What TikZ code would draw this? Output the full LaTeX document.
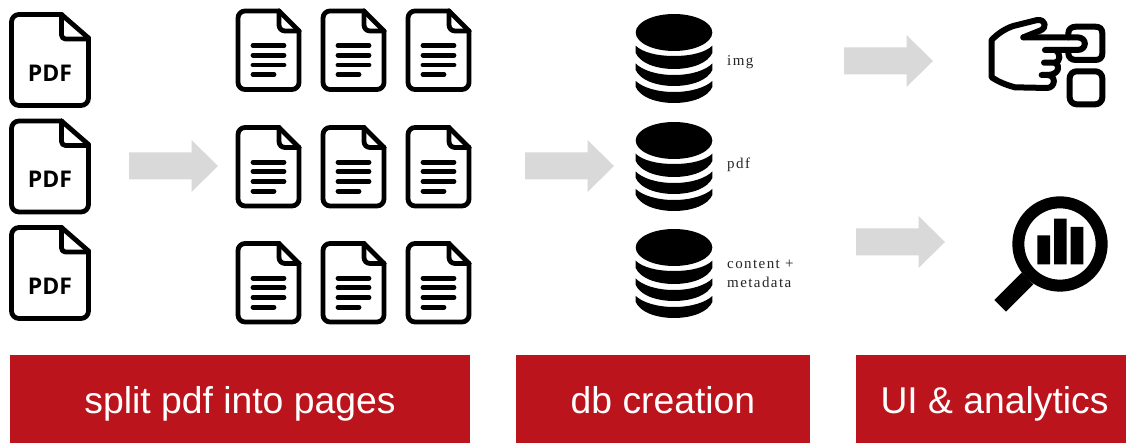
\documentclass[tikz,border=0pt]{standalone}
\usepackage{fontspec}
\setmainfont{Liberation Sans}
\newfontfamily\serifspaced[LetterSpace=9.5]{Liberation Serif}
\newfontfamily\pdffont{Open Sans}
\definecolor{barred}{HTML}{BC141C}
\definecolor{arrowgrey}{HTML}{D9D9D9}
\tikzset{
  x=1pt,y=-1pt,
  icon/.style={line width=4.8pt,line join=round,line cap=round,draw=black},
  bar/.style={fill=barred,inner sep=0pt,anchor=center},
  barlabel/.style={text=white,font=\fontsize{37.3}{37.3}\selectfont,inner sep=0pt,anchor=base},
  dblabel/.style={font=\serifspaced\fontsize{15}{15}\selectfont,anchor=base west,inner sep=0pt,text=black!85},
  pdftext/.style={font=\pdffont\bfseries\fontsize{23}{23}\selectfont,inner sep=0pt,anchor=base},
  pdficon/.pic={
    \draw[icon,rounded corners=7.5pt] (61.5,14.5) -- (11.5,14.5) -- (11.5,105.5) -- (88.5,105.5) -- (88.5,38);
    \draw[icon] (88.5,38) -- (61.5,14.5);
    \draw[icon,rounded corners=4pt] (61.5,14.5) -- (61.5,39) -- (88.5,39);
  },
  pageicon/.pic={
    \draw[icon,rounded corners=7pt] (279,11) -- (238,11) -- (238,89.5) -- (299,89.5) -- (299,31);
    \draw[icon] (299,31) -- (279,11);
    \draw[icon,rounded corners=6pt] (279,11) -- (279,31) -- (299,31);
    \draw[icon] (253,45.7) -- (284,45.7) (253,55.2) -- (284,55.2) (253,65) -- (284,65) (253,74.7) -- (274,74.7);
  },
  dbicon/.pic={
    \fill (674,32.5) ellipse[x radius=38.3,y radius=18.5];
    \fill (635.7,45.7) .. controls (642,52) and (656,56) .. (674,56) .. controls (692,56) and (706,52) .. (712.3,45.7) -- (712.3,53) .. controls (708,63) and (692,69) .. (674,69) .. controls (656,69) and (640,63) .. (635.7,53) -- cycle;
    \fill (635.7,63.5) .. controls (642,70) and (656,75) .. (674,75) .. controls (692,75) and (706,70) .. (712.3,63.5) -- (712.3,70) .. controls (708,80) and (692,86) .. (674,86) .. controls (656,86) and (640,80) .. (635.7,70) -- cycle;
    \fill (635.7,81) .. controls (642,87) and (656,92) .. (674,92) .. controls (692,92) and (706,87) .. (712.3,81) -- (712.3,87) .. controls (708,97) and (692,103) .. (674,103) .. controls (656,103) and (640,97) .. (635.7,87) -- cycle;
  },
  blockarrow/.pic={
    \fill[arrowgrey] (0,-13.5) -- (62.5,-13.5) -- (62.5,-26) -- (89,0) -- (62.5,26) -- (62.5,13.5) -- (0,13.5) -- cycle;
  },
}
\begin{document}
\begin{tikzpicture}
\useasboundingbox (0,0) rectangle (1126,443);
\fill[white] (0,0) rectangle (1126,443);
% PDF files
\foreach \n/\dy in {a/0,b/106.5,c/213}{
  \pic at (0,\dy) {pdficon};
  \node[pdftext] (pdf\n) at (50,81.5+\dy) {PDF};
}
% pages
\foreach \dx in {0,85,170}{
  \foreach \dy in {0,116.5,232.5}{
    \pic at (\dx,\dy) {pageicon};
  }
}
% block arrows
\pic at (129,166) {blockarrow};
\pic at (525,166) {blockarrow};
\pic at (844,61) {blockarrow};
\pic at (856,242) {blockarrow};
% databases
\pic at (0,0) {dbicon};
\pic at (0,108) {dbicon};
\pic at (0,215) {dbicon};
\node[dblabel] (img) at (727,65.5) {img};
\node[dblabel] (pdfl) at (727,169) {pdf};
\node[dblabel] (content) at (727,269) {content +};
\node[dblabel] (meta) at (727,288) {metadata};
% hand icon
\begin{scope}[line width=6pt,line join=round,line cap=round,shift={(960,0)},x=0.3333pt,y=-0.3333pt]
  \draw (190,112) -- (240,92) .. controls (262,84) and (258,58) .. (232,60) -- (160,78) .. controls (135,86) and (112,102) .. (95,120) -- (95,232) .. controls (115,245) and (135,254) .. (165,262) -- (262,264) .. controls (288,262) and (288,225) .. (262,225) -- (245,225);
  \draw (190,112) -- (352,112) .. controls (382,112) and (382,150) .. (352,150) -- (255,150);
  \draw (285,150) .. controls (305,160) and (300,188) .. (285,188) -- (252,188);
  \draw (285,188) .. controls (302,195) and (298,225) .. (262,225);
  \draw (325,112) -- (325,100) .. controls (325,87) and (335,80) .. (348,80) -- (405,80) .. controls (420,80) and (427,87) .. (427,100) -- (427,160) .. controls (427,173) and (420,180) .. (405,180) -- (348,180) .. controls (335,180) and (325,173) .. (325,160);
  \draw[rounded corners=7pt] (329,214) rectangle (427,313);
\end{scope}
% magnifier
\begin{scope}[shift={(980,175)},x=0.3333pt,y=-0.3333pt]
  \draw[line width=12pt] (240,207) circle[radius=125];
  \fill (125,293) -- (43,375) -- (78,410) -- (160,328) -- cycle;
  \fill (172,181) rectangle (210,268) (222,131) rectangle (260,268) (272,156) rectangle (310,268);
\end{scope}
% bars
\node[bar,minimum width=460pt,minimum height=88pt] (split) at (240,399) {};
\node[bar,minimum width=294pt,minimum height=88pt] (dbc) at (663,399) {};
\node[bar,minimum width=270pt,minimum height=88pt] (ui) at (991,399) {};
\node[barlabel] (splitt) at (240,413.5) {split pdf into pages};
\node[barlabel] (dbct) at (663,413.5) {db creation};
\node[barlabel] (uit) at (994.5,413.5) {UI \& analytics};
\end{tikzpicture}
\end{document}
